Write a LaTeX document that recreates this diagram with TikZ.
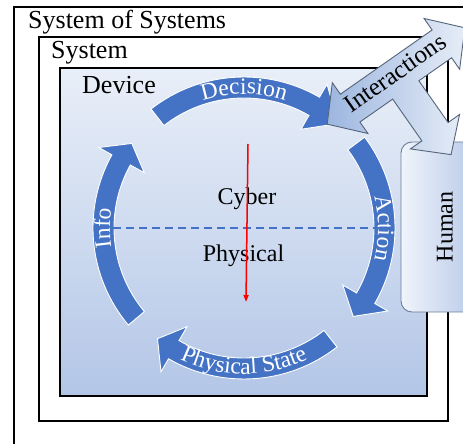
\documentclass[tikz,border=0pt]{standalone}
\usepackage{fontspec}
\setmainfont{Liberation Serif}
\usetikzlibrary{arrows.meta,decorations.text}
\definecolor{cpsblue}{HTML}{4472C4}
\definecolor{devtop}{HTML}{E9EFF8}
\definecolor{devbot}{HTML}{B3C6E7}
\definecolor{humleft}{HTML}{F0F4FB}
\definecolor{humright}{HTML}{B1C4E6}
\definecolor{humedge}{HTML}{6C7D96}
\definecolor{intdark}{HTML}{9DB6DF}
\definecolor{intlight}{HTML}{E6EDF7}
\definecolor{intedge}{HTML}{56647A}
\newcommand\arcfont{\fontsize{23.5pt}{23.5pt}\selectfont}
\newcommand\cyarrow[3]{%
  \filldraw[arcarrow] (#1:151) arc[start angle=#1, end angle=#2, radius=151]
    -- (#2:166) -- (#3:140.5) -- (#2:114) -- (#2:130)
    arc[start angle=#2, end angle=#1, radius=130] -- cycle;}
\begin{document}
\begin{tikzpicture}[x=1pt,y=1pt,
  frame/.style={draw=black, line width=1.6pt},
  boxlabel/.style={font=\fontsize{26pt}{26pt}\selectfont, inner sep=0pt},
  midlabel/.style={font=\fontsize{24pt}{24pt}\selectfont, inner sep=0pt},
  arcarrow/.style={fill=cpsblue, draw=white, line width=0.9pt, line join=miter},
  arctext/.style={decorate, decoration={text along path, text align=center, text color=white}},
  dashline/.style={draw=cpsblue, line width=1.2pt, dash pattern=on 8pt off 5pt},
  redarrow/.style={draw=red, line width=1.5pt, -{Triangle[length=7pt,width=5pt]}},
  humanbox/.style={draw=humedge, line width=0.9pt, rounded corners=11pt, left color=humleft, right color=humright},
  interarrow/.style={draw=intedge, line width=0.9pt, line join=miter, left color=intdark, right color=intlight}
]
\useasboundingbox (0,0) rectangle (463,444);
\clip (0,0) rectangle (463,444);
\fill[white] (0,0) rectangle (463,444);

% frames
\draw[frame] (14,437) rectangle (490,-20);
\draw[frame] (39,407) rectangle (448,23);
\shade[top color=devtop, bottom color=devbot] (60,376) rectangle (427,48);
\draw[draw=black, line width=1.4pt] (60,376) rectangle (427,48);

\node[boxlabel, anchor=base west] (sos) at (28,415) {System of Systems};
\node[boxlabel, anchor=base west] (sys) at (51,385) {System};
\node[boxlabel, anchor=base west] (dev) at (82,350) {Device};

% cycle arrows
\begin{scope}[shift={(244,216)}]
  \cyarrow{128}{60}{48}
  \cyarrow{37}{-30}{-39}
  \cyarrow{-52}{-120}{-128}
  \cyarrow{220}{151}{143}
  \path[arctext, decoration={text={|\arcfont|Decision}}] (125:134) arc[start angle=125, end angle=55, radius=134];
  \path[arctext, decoration={text={|\arcfont|Action}}] (40:134) arc[start angle=40, end angle=-40, radius=134];
  \path[arctext, decoration={text={|\arcfont|Info}}] (220:134) arc[start angle=220, end angle=140, radius=134];
  \path[arctext, decoration={text={|\arcfont|Physical State}}] (-137:146) arc[start angle=-137, end angle=-43, radius=146];
\end{scope}

\node[midlabel, anchor=base] (cyber) at (247,239) {Cyber};
\node[midlabel, anchor=base] (phys) at (243.5,182) {Physical};

\coordinate (dl) at (113,216);
\coordinate (dr) at (392,216);
\draw[dashline] (dl) -- (dr);

\coordinate (redtop) at (248,300);
\coordinate (redbot) at (246,142);
\draw[redarrow] (redtop) -- (redbot);

% human
\draw[humanbox] (401,302) rectangle (485,132);
\node[midlabel, rotate=90] (human) at (445,217) {Human};

% interactions arrow
\begin{scope}[shift={(396,368)}, rotate=35]
  \draw[interarrow] (84,0) -- (56,31) -- (56,17) -- (-56,17) -- (-56,31) -- (-84,0)
    -- (-56,-31) -- (-56,-17) -- (-16,-17) -- (-16,-68) -- (-30,-68) -- (0,-96)
    -- (30,-68) -- (16,-68) -- (16,-17) -- (56,-17) -- (56,-31) -- cycle;
\end{scope}
\node[inner sep=0pt, rotate=35, font=\fontsize{25pt}{25pt}\selectfont] (inter) at (395,371) {Interactions};
\end{tikzpicture}
\end{document}
